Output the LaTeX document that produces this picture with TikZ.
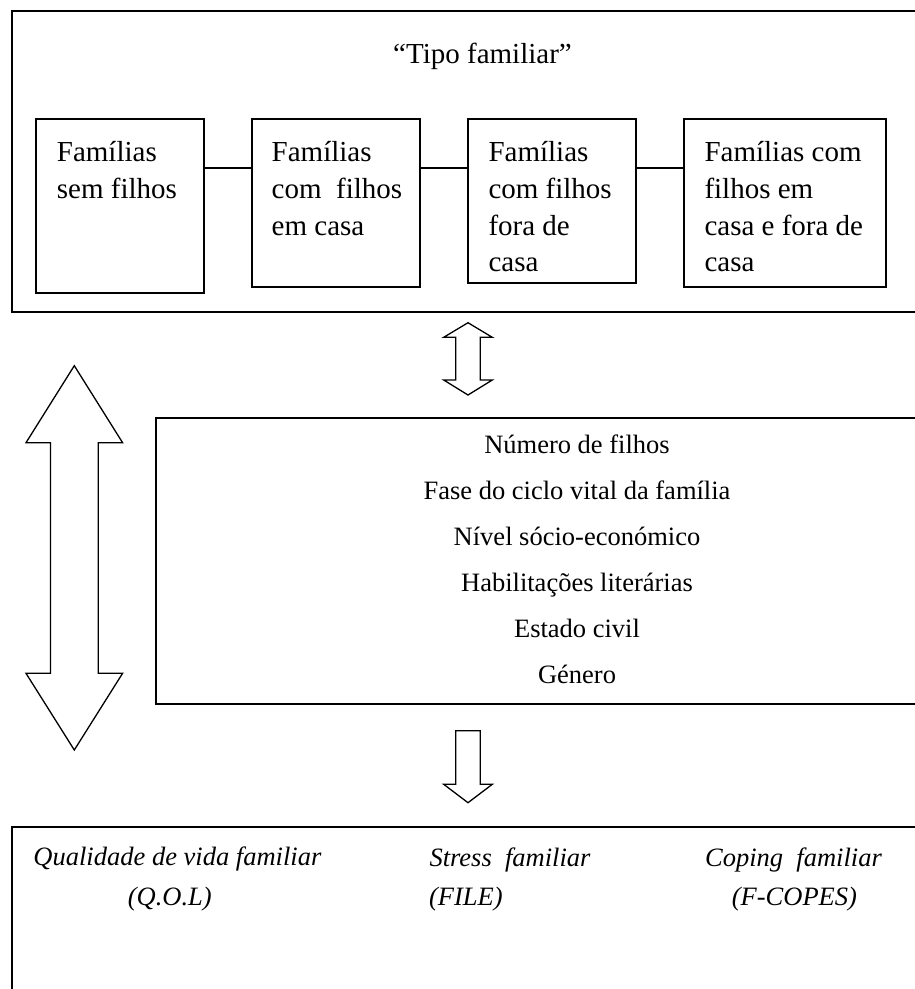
\documentclass[tikz,border=0pt]{standalone}
\usepackage{fontspec}
\setmainfont{Liberation Serif}
\begin{document}
\begin{tikzpicture}[x=1pt,y=-1pt,
  frame/.style={draw, line width=1.8pt, inner sep=0pt, outer sep=0pt, anchor=north west},
  typebox/.style={draw, line width=1.8pt, inner sep=0pt, outer sep=0pt, anchor=north west, minimum width=168.3pt},
  link/.style={line width=1.8pt},
  fatarrow/.style={draw, line width=1.3pt, fill=white, line join=miter},
  toptext/.style={inner sep=0pt, anchor=base west, font=\fontsize{29}{36.7}\selectfont},
  midtext/.style={inner sep=0pt, anchor=base, font=\fontsize{26.5}{46}\selectfont},
  bottext/.style={inner sep=0pt, anchor=base west, font=\fontsize{26.5}{40}\selectfont\itshape}
]
\useasboundingbox (0,0) rectangle (915,989);
\clip (0,0) rectangle (915,989);

% outer frames
\node[frame, minimum width=960pt, minimum height=301pt] (top) at (11.7,10.7) {};
\node[frame, minimum width=860pt, minimum height=285.4pt] (mid) at (155.7,418.3) {};
\node[frame, minimum width=960pt, minimum height=300pt] (bot) at (11.7,826.7) {};

% title
\node[inner sep=0pt, anchor=base, font=\fontsize{29}{36.7}\selectfont] (title) at (482.5,63.3) {“Tipo familiar”};

% family type boxes
\node[typebox, minimum height=173.4pt] (b1) at (35.7,119.3) {};
\node[typebox, minimum height=168pt] (b2) at (251.7,119.3) {};
\node[typebox, minimum height=164pt] (b3) at (467.7,119.3) {};
\node[typebox, minimum width=201.7pt, minimum height=168pt] (b4) at (684,119.3) {};

\node[toptext] (t1) at (56.7,161.7) {\parbox[t]{150pt}{\raggedright Famílias\\sem filhos}};
\node[toptext] (t2) at (271.5,161.7) {\parbox[t]{150pt}{\raggedright Famílias\\com~ filhos\\em casa}};
\node[toptext] (t3) at (488.3,161.7) {\parbox[t]{150pt}{\raggedright Famílias\\com filhos\\fora de\\casa}};
\node[toptext] (t4) at (704.3,161.7) {\parbox[t]{180pt}{\raggedright Famílias com\\filhos em\\casa e fora de\\casa}};

\coordinate (cy) at (0,167.7);
\draw[link] (b1.east |- cy) -- (b2.west |- cy);
\draw[link] (b2.east |- cy) -- (b3.west |- cy);
\draw[link] (b3.east |- cy) -- (b4.west |- cy);

% middle variables
\node[midtext] (m1) at (577,453) {Número de filhos};
\node[midtext] (m2) at (577,499) {Fase do ciclo vital da família};
\node[midtext] (m3) at (577,545) {Nível sócio-económico};
\node[midtext] (m4) at (577,591) {Habilitações literárias};
\node[midtext] (m5) at (577,637) {Estado civil};
\node[midtext] (m6) at (577,683) {Género};

% small double arrow between top and middle
\draw[fatarrow] (468,322.7) -- (492.3,337.3) -- (480.3,337.3) -- (480.3,380) -- (492.3,380)
  -- (468,395) -- (443.7,380) -- (455.7,380) -- (455.7,337.3) -- (443.7,337.3) -- cycle;

% down arrow between middle and bottom
\draw[fatarrow] (455.7,730.7) -- (480.3,730.7) -- (480.3,784.3) -- (492.3,784.3)
  -- (468,802.7) -- (443.7,784.3) -- (455.7,784.3) -- cycle;

% big left double arrow
\draw[fatarrow] (74.3,365.7) -- (122.6,442.7) -- (98.2,442.7) -- (98.2,673.3) -- (122.6,673.3)
  -- (74.3,750) -- (26,673.3) -- (50.5,673.3) -- (50.5,442.7) -- (26,442.7) -- cycle;

% bottom measures
\node[bottext] (q1) at (33.3,865) {Qualidade de vida familiar};
\node[bottext] (q2) at (127.7,905) {(Q.O.L)};
\node[bottext] (s1) at (429.3,866) {Stress~ familiar};
\node[bottext] (s2) at (428.8,905) {(FILE)};
\node[bottext] (c1) at (705,866.7) {Coping~ familiar};
\node[bottext] (c2) at (731.7,905) {(F-COPES)};
\end{tikzpicture}
\end{document}
